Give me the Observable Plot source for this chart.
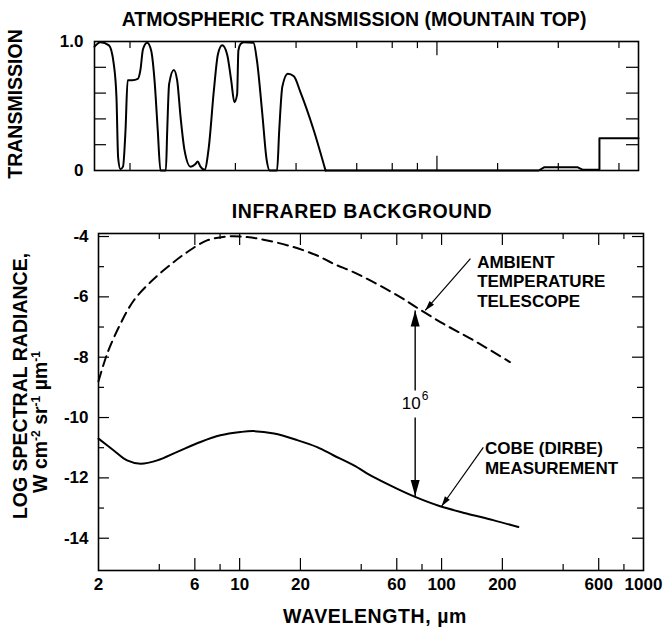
<!DOCTYPE html>
<html><head><meta charset="utf-8">
<script src="https://cdn.jsdelivr.net/npm/d3@7"></script>
<script src="https://cdn.jsdelivr.net/npm/@observablehq/plot@0.6"></script>
<style>
body{margin:0;background:#fff;}
#wrap{position:relative;width:666px;height:628px;overflow:hidden;background:#fff;}
#wrap svg{position:absolute;left:0;}
</style></head><body><div id="wrap"></div>
<script>
// ---------- data ----------
// Atmospheric transmission (mountain top)
const transWavelength = [2.0,2.14,2.36,2.49,2.57,2.62,2.69,2.77,2.85,2.92,3.08,3.28,3.38,3.48,3.65,3.82,3.97,4.12,4.25,4.52,4.59,4.69,4.95,5.14,5.35,5.59,5.99,6.34,6.50,6.71,7.03,7.38,7.82,8.19,8.60,9.10,9.53,9.89,10.2,10.35,10.6,11.0,12.3,12.8,13.6,14.3,14.8,16.1,16.5,17.1,18.2,19.5,21.0,24.5,28.0];
const transValue = [0.96,0.995,0.97,0.83,0.57,0.10,0.01,0.03,0.31,0.70,0.70,0.71,0.78,0.94,0.99,0.93,0.70,0.31,0,0,0.31,0.67,0.78,0.70,0.41,0.16,0.03,0.05,0.07,0.03,0.005,0.18,0.62,0.90,0.97,0.90,0.70,0.53,0.59,0.93,0.98,0.995,0.99,0.85,0.44,0.08,0,0,0.31,0.65,0.75,0.73,0.61,0.31,0];
const transTailWavelength = [28, 320, 340, 500, 530, 640, 640, 1000];
const transTailValue = [0, 0, 0.025, 0.025, 0.005, 0.005, 0.25, 0.25];
// Infrared background
const ambientWavelength = [2.0,2.21,2.57,2.99,3.62,4.38,5.49,6.90,8.67,10.9,13.7,18.5,24.2,29.1,36.6,47.7,62.5,76.8,102,144,218];
const ambientLogRadiance = [-8.8,-7.88,-6.89,-6.12,-5.51,-5.02,-4.52,-4.13,-4.0,-4.02,-4.13,-4.35,-4.63,-4.90,-5.18,-5.57,-6.01,-6.39,-6.89,-7.44,-8.16];
const cobeWavelength = [2.0,2.38,2.77,3.23,3.91,4.91,6.40,8.03,10.1,11.7,14.8,19.3,24.2,29.1,36.6,45.9,57.7,74.0,98.4,133,180,240];
const cobeLogRadiance = [-10.70,-11.09,-11.42,-11.53,-11.42,-11.14,-10.81,-10.59,-10.48,-10.45,-10.53,-10.75,-10.98,-11.25,-11.58,-11.97,-12.30,-12.63,-12.94,-13.18,-13.40,-13.63];
// ticks
const xTickLabels = [2, 6, 10, 20, 60, 100, 200, 600, 1000];
const xTickMarks = [4, 6, 8, 10, 20, 40, 60, 80, 100, 200, 400, 600, 800];
const topXTickMarks = [3, 10, 20, 40, 60, 80, 100, 200, 400, 800];
const yTickLabels = [-4, -6, -8, -10, -12, -14];
const yMinorTicks = [-5, -7, -9, -11, -13];
const transTickLabels = [0, 1];
const transMinorTicks = [0.2, 0.4, 0.6, 0.8];
// annotations
const pointerLabels = ["AMBIENT\nTEMPERATURE\nTELESCOPE", "COBE (DIRBE)\nMEASUREMENT"];
const pointerLabelWavelength = [150, 164];
const pointerLabelLog = [-4.56, -10.75];
const pointerFromWavelength = [139, 161];
const pointerFromLog = [-4.73, -10.99];
const pointerToWavelength = [83, 100];
const pointerToLog = [-6.45, -12.94];
const gapWavelength = 74;
const gapFromLog = [-9.1, -10.0];
const gapToLog = [-6.45, -12.6];
const gapLabel = "10";
const gapExponent = "6";
const gapLabelLog = -9.53;

// ---------- layout ----------
const FONT = "'Liberation Sans', Arial, Helvetica, sans-serif";
const wrap = document.getElementById("wrap");
const xDomain = [2, 1000];
const yDomain = [-15.07, -3.9];
const styleObj = {fontFamily: FONT, fontSize: "17px", fontWeight: "bold", color: "black", background: "transparent", overflow: "visible"};

// top panel
const transData = transWavelength.map((w, i) => ({w, t: transValue[i]}));
const tailData = transTailWavelength.map((w, i) => ({w, t: transTailValue[i]}));
const topDecade = 201.6;
const fx = px => Math.pow(10, px / topDecade);
const topPlot = Plot.plot({
  width: 666, height: 190,
  marginTop: 41, marginBottom: 20, marginLeft: 94, marginRight: 28,
  x: {type: "log", domain: xDomain, axis: null},
  y: {domain: [0, 1], ticks: transTickLabels, tickFormat: d => d === 1 ? "1.0" : "0", tickSize: 0, tickPadding: 11, label: null},
  style: styleObj,
  marks: [
    Plot.ruleX(topXTickMarks, {x: d => d, y1: 0, y2: d => d === 100 ? 0.11 : 0.055, stroke: "black", strokeWidth: 1.2}),
    Plot.ruleX(topXTickMarks, {x: d => d, y1: 1, y2: d => d === 100 ? 0.89 : 0.945, stroke: "black", strokeWidth: 1.2}),
    Plot.ruleY(transMinorTicks, {y: d => d, x1: xDomain[0], x2: xDomain[0] * fx(12), stroke: "black", strokeWidth: 1.2}),
    Plot.ruleY(transMinorTicks, {y: d => d, x1: xDomain[1] / fx(12), x2: xDomain[1], stroke: "black", strokeWidth: 1.2}),
    Plot.line(transData, {x: "w", y: "t", curve: "monotone-x", stroke: "black", strokeWidth: 2}),
    Plot.line(tailData, {x: "w", y: "t", curve: "linear", stroke: "black", strokeWidth: 2}),
    Plot.frame({stroke: "black", strokeWidth: 1.6})
  ]
});
topPlot.style.top = "0px";
wrap.appendChild(topPlot);

// bottom panel
const ambientData = ambientWavelength.map((w, i) => ({w, v: ambientLogRadiance[i]}));
const cobeData = cobeWavelength.map((w, i) => ({w, v: cobeLogRadiance[i]}));
const botLeft = 98, botRight = 23, botTop = 43, botBottom = 58, botH = 438;
const xs = d3.scaleLog().domain(xDomain).range([botLeft, 666 - botRight]);
const ys = d3.scaleLinear().domain(yDomain).range([botH - botBottom, botTop]);
const pxPerUnit = (botH - botBottom - botTop) / (yDomain[1] - yDomain[0]);
const botDecade = (666 - botRight - botLeft) / Math.log10(xDomain[1] / xDomain[0]);
const fxb = px => Math.pow(10, px / botDecade);
const angle = (x1, y1, x2, y2) => Math.atan2(xs(x2) - xs(x1), -(ys(y2) - ys(y1))) * 180 / Math.PI;

const pointers = pointerLabels.map((label, i) => ({
  label, lx: pointerLabelWavelength[i], ly: pointerLabelLog[i],
  x1: pointerFromWavelength[i], y1: pointerFromLog[i],
  x2: pointerToWavelength[i], y2: pointerToLog[i],
  rot: angle(pointerFromWavelength[i], pointerFromLog[i], pointerToWavelength[i], pointerToLog[i])
}));
const gaps = gapFromLog.map((y1, i) => ({x: gapWavelength, y1, y2: gapToLog[i], rot: gapToLog[i] > y1 ? 0 : 180}));

const labeled = new Set(xTickLabels);
const botPlot = Plot.plot({
  width: 666, height: botH,
  marginTop: botTop, marginBottom: botBottom, marginLeft: botLeft, marginRight: botRight,
  x: {type: "log", domain: xDomain, axis: null},
  y: {domain: yDomain, ticks: yTickLabels, tickFormat: d => "-" + Math.abs(d), tickSize: 0, tickPadding: 10, label: null},
  style: styleObj,
  marks: [
    Plot.ruleX(xTickMarks, {x: d => d, y1: yDomain[0], y2: d => yDomain[0] + (labeled.has(d) ? 12 : 6) / pxPerUnit, stroke: "black", strokeWidth: 1.2}),
    Plot.ruleX(xTickMarks, {x: d => d, y1: yDomain[1], y2: d => yDomain[1] - (labeled.has(d) ? 12 : 6) / pxPerUnit, stroke: "black", strokeWidth: 1.2}),
    Plot.ruleY(yTickLabels, {y: d => d, x1: xDomain[0], x2: xDomain[0] * fxb(11), stroke: "black", strokeWidth: 1.2}),
    Plot.ruleY(yMinorTicks, {y: d => d, x1: xDomain[0], x2: xDomain[0] * fxb(6), stroke: "black", strokeWidth: 1.2}),
    Plot.ruleY(yTickLabels, {y: d => d, x1: xDomain[1] / fxb(11), x2: xDomain[1], stroke: "black", strokeWidth: 1.2}),
    Plot.ruleY(yMinorTicks, {y: d => d, x1: xDomain[1] / fxb(6), x2: xDomain[1], stroke: "black", strokeWidth: 1.2}),
    // x tick labels
    Plot.text(xTickLabels, {x: d => d, frameAnchor: "bottom", text: d => String(d), lineAnchor: "top", dy: 7, fontSize: 17, fontWeight: "bold", fill: "black"}),
    Plot.line(ambientData, {x: "w", y: "v", curve: "catmull-rom", stroke: "black", strokeWidth: 2, strokeDasharray: "10,6"}),
    Plot.line(cobeData, {x: "w", y: "v", curve: "catmull-rom", stroke: "black", strokeWidth: 2}),
    // pointer arrows
    Plot.link(pointers, {x1: "x1", y1: "y1", x2: "x2", y2: "y2", stroke: "black", strokeWidth: 1.2}),
    Plot.vector(pointers, {x: "x2", y: "y2", rotate: "rot", length: 10, r: 3, shape: "spike", anchor: "end", fill: "black", stroke: "none"}),
    Plot.text(pointers, {x: "lx", y: "ly", text: "label", textAnchor: "start", lineAnchor: "top", lineHeight: 1.17, fontSize: 17, fontWeight: "bold", fill: "black"}),
    // 10^6 double arrow
    Plot.link(gaps, {x1: "x", y1: "y1", x2: "x", y2: "y2", stroke: "black", strokeWidth: 1.4}),
    Plot.vector(gaps, {x: "x", y: "y2", rotate: "rot", length: 16, r: 4.5, shape: "spike", anchor: "end", fill: "black", stroke: "none"}),
    Plot.text([gapLabel], {x: gapWavelength, y: gapLabelLog, text: d => d, dx: -4, fontSize: 17, fontWeight: "normal", fill: "black"}),
    Plot.text([gapExponent], {x: gapWavelength, y: gapLabelLog, text: d => d, dx: 10, dy: -7, fontSize: 12, fontWeight: "normal", fill: "black"}),
    Plot.frame({stroke: "black", strokeWidth: 1.6})
  ]
});
botPlot.style.top = "190px";
wrap.appendChild(botPlot);

// titles and axis labels overlay
const ov = d3.create("svg").attr("width", 666).attr("height", 628)
  .style("top", "0px").style("pointer-events", "none")
  .attr("font-family", FONT).attr("font-weight", "bold").attr("fill", "black");
ov.append("text").attr("x", 354).attr("y", 26).attr("text-anchor", "middle").attr("font-size", 19.5)
  .text("ATMOSPHERIC TRANSMISSION (MOUNTAIN TOP)");
ov.append("text").attr("x", 362).attr("y", 218).attr("text-anchor", "middle").attr("font-size", 19.5).attr("letter-spacing", 0.6)
  .text("INFRARED BACKGROUND");
ov.append("text").attr("x", 375).attr("y", 623).attr("text-anchor", "middle").attr("font-size", 19.5).attr("letter-spacing", 0.6)
  .text("WAVELENGTH, \u00b5m");
ov.append("text").attr("transform", "translate(22,104) rotate(-90)").attr("text-anchor", "middle").attr("font-size", 19.5)
  .text("TRANSMISSION");
ov.append("text").attr("transform", "translate(27,386) rotate(-90)").attr("text-anchor", "middle").attr("font-size", 19.5)
  .text("LOG SPECTRAL RADIANCE,");
const u = ov.append("text").attr("transform", "translate(47,422) rotate(-90)").attr("text-anchor", "middle").attr("font-size", 19.5);
u.append("tspan").text("W cm");
u.append("tspan").attr("dy", -7).attr("font-size", 12).text("-2");
u.append("tspan").attr("dy", 7).text(" sr");
u.append("tspan").attr("dy", -7).attr("font-size", 12).text("-1");
u.append("tspan").attr("dy", 7).text(" \u00b5m");
u.append("tspan").attr("dy", -7).attr("font-size", 12).text("-1");
wrap.appendChild(ov.node());
</script></body></html>
